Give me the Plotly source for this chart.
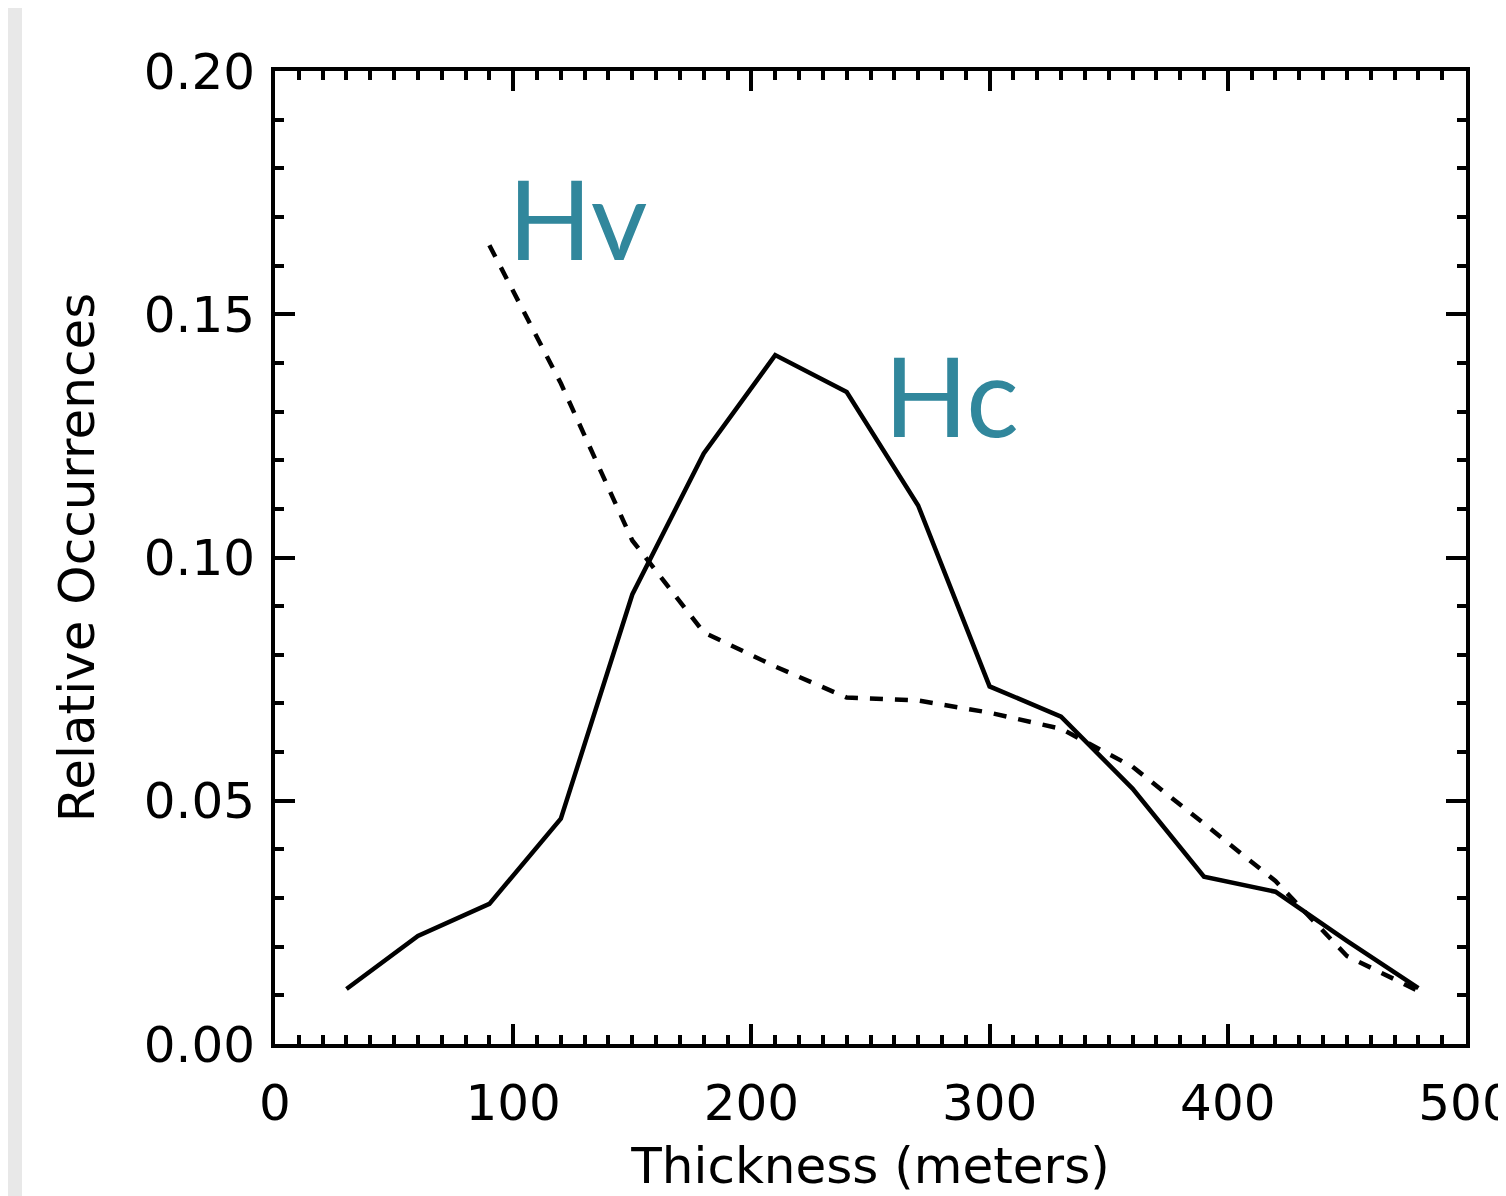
import plotly.graph_objects as go

thickness_hc = [30, 60, 90, 120, 150, 180, 210, 240, 270, 300, 330, 360, 390, 420, 450, 480]
hc_values = [0.0113, 0.0222, 0.0288, 0.0463, 0.0924, 0.1214, 0.1416, 0.1340, 0.1107,
             0.0735, 0.0673, 0.0525, 0.0344, 0.0313, 0.0212, 0.0115]

thickness_hv = [90, 120, 150, 180, 210, 240, 270, 300, 330, 360, 390, 420, 450, 480]
hv_values = [0.1642, 0.1358, 0.1035, 0.0846, 0.0776, 0.0712, 0.0706, 0.0681, 0.0648,
             0.0570, 0.0453, 0.0335, 0.0181, 0.0109]

x_ticks = [0, 100, 200, 300, 400, 500]
y_ticks = [0.00, 0.05, 0.10, 0.15, 0.20]
y_tick_labels = ["0.00", "0.05", "0.10", "0.15", "0.20"]

TEAL = "#31879c"
FAMILY = "DejaVu Sans"
TICK_FONT = dict(family=FAMILY, size=50, color="black")
TITLE_FONT = dict(family=FAMILY, size=50, color="black")

fig = go.Figure()
fig.add_trace(go.Scatter(x=thickness_hc, y=hc_values, mode="lines",
                         line=dict(color="black", width=4.5), name="Hc"))
fig.add_trace(go.Scatter(x=thickness_hv, y=hv_values, mode="lines",
                         line=dict(color="black", width=4.5, dash="13px,12px"), name="Hv"))

# page body has an 8px default margin; margins are chosen so the plot box lands
# where the reference has it
ML, MR, MT, MB = 267, 48, 63, 160
W, H = 1506, 1196
pw = W - ML - MR

fig.add_shape(type="rect", xref="paper", yref="paper",
              x0=-ML / pw, x1=(14 - ML) / pw, y0=-1, y1=2,
              fillcolor="#e8e8e8", line=dict(width=0), layer="below")

fig.add_annotation(x=97, y=0.1700, xref="x", yref="y", text="Hv", showarrow=False,
                   xanchor="left", yanchor="middle",
                   font=dict(family="Lato", size=110, color=TEAL))
fig.add_annotation(x=255, y=0.1337, xref="x", yref="y", text="Hc", showarrow=False,
                   xanchor="left", yanchor="middle",
                   font=dict(family="Lato", size=110, color=TEAL))

axis_common = dict(showgrid=False, zeroline=False, showline=True, linecolor="black",
                   linewidth=4, ticks="inside", tickcolor="black", tickwidth=4,
                   mirror="allticks", tickfont=TICK_FONT, ticklabeloverflow="allow",
                   automargin=False)

fig.update_xaxes(range=[0, 500], tickvals=x_ticks, ticklen=20,
                 minor=dict(dtick=10, ticklen=9, tickwidth=4, tickcolor="black", ticks="inside"),
                 ticklabelstandoff=12,
                 title=dict(text="Thickness (meters)", font=TITLE_FONT, standoff=18),
                 **axis_common)
fig.update_yaxes(range=[0, 0.20], tickvals=y_ticks, ticktext=y_tick_labels, ticklen=20,
                 minor=dict(dtick=0.01, ticklen=9, tickwidth=4, tickcolor="black", ticks="inside"),
                 ticklabelstandoff=6,
                 title=dict(text="Relative Occurrences", font=TITLE_FONT, standoff=34),
                 **axis_common)

fig.update_layout(width=W, height=H, margin=dict(l=ML, r=MR, t=MT, b=MB),
                  paper_bgcolor="white", plot_bgcolor="white", showlegend=False)

fig.write_html("out.html", config={"displayModeBar": False})
